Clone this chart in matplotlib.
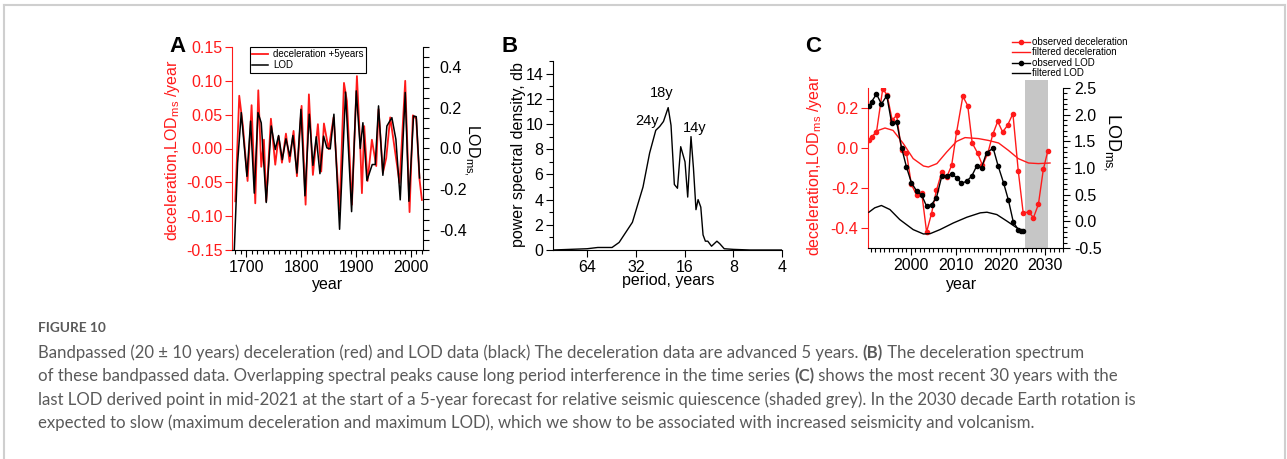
import matplotlib
matplotlib.use("Agg")
import matplotlib.pyplot as plt
from matplotlib.ticker import MultipleLocator, FormatStrFormatter, NullLocator, FixedLocator
from matplotlib.lines import Line2D
from matplotlib.text import Annotation

W, H = 1287, 459
RED = "#ff1a1a"

plt.rcParams["font.family"] = ["Liberation Sans", "DejaVu Sans"]
plt.rcParams["mathtext.fontset"] = "custom"
plt.rcParams["mathtext.rm"] = "Liberation Sans"
plt.rcParams["mathtext.it"] = "Liberation Sans"

# ---- panel A: bandpassed deceleration (+5 yr) and LOD ----
a_dec_year = [1680.0, 1687.2, 1693.9, 1702.4, 1709.7, 1716.4, 1721.9, 1727.3, 1732.2, 1736.4,
              1744.9, 1752.8, 1758.9, 1765.0, 1772.3, 1778.9, 1786.2, 1792.3, 1800.8, 1808.1,
              1814.1, 1821.4, 1830.5, 1836.6, 1841.5, 1850.0, 1859.1, 1870.0, 1878.0, 1883.4,
              1892.5, 1901.6, 1907.7, 1910.7, 1914.9, 1921.0, 1928.9, 1936.8, 1941.0, 1948.9,
              1955.0, 1962.3, 1971.4, 1979.3, 1989.6, 1997.5, 2003.6, 2009.7, 2015.7, 2020.0]
a_dec = [-0.078, 0.078, 0.033, -0.048, 0.064, -0.081, 0.086, -0.027, 0.013, -0.078,
         0.044, -0.024, 0.018, -0.021, 0.022, -0.020, 0.026, -0.041, 0.063, -0.083,
         0.080, -0.039, 0.036, -0.034, 0.037, -0.001, 0.046, -0.091, 0.097, 0.070,
         -0.083, 0.107, 0.003, -0.066, 0.033, -0.048, 0.013, -0.026, 0.058, -0.036,
         -0.014, 0.046, -0.006, -0.051, 0.100, -0.094, 0.049, 0.044, -0.046, -0.076]

a_lod_year = [1677.5, 1684.2, 1690.9, 1701.2, 1707.9, 1714.6, 1721.3, 1727.3, 1736.4, 1745.5,
              1752.8, 1758.9, 1765.6, 1772.3, 1779.5, 1785.0, 1792.3, 1799.6, 1806.9, 1814.8,
              1821.4, 1827.5, 1834.2, 1840.9, 1846.9, 1853.0, 1859.7, 1870.0, 1880.9, 1891.9,
              1900.4, 1907.7, 1912.5, 1919.8, 1929.5, 1935.0, 1941.0, 1948.9, 1956.2, 1965.3,
              1972.6, 1980.5, 1989.6, 1996.3, 2004.8, 2009.7, 2015.7]
a_lod = [-0.55, -0.071, 0.177, -0.137, 0.135, -0.220, 0.177, 0.126, -0.266, 0.111,
         -0.005, 0.064, -0.055, 0.048, -0.038, 0.064, -0.121, 0.193, -0.233, 0.169,
         -0.083, 0.058, -0.124, 0.061, 0.003, -0.002, 0.169, -0.398, 0.278, -0.311,
         0.284, 0.0, 0.127, -0.158, -0.079, -0.079, 0.210, -0.132, 0.111, 0.152,
         0.045, -0.253, 0.276, -0.260, 0.160, 0.157, -0.145]

# ---- panel B: spectrum ----
b_period = [104, 64, 55, 44.9, 40.6, 33.6, 28.9, 26.3, 24.1, 22.8, 21.6, 20.2, 19.4, 18.5,
            17.7, 16.9, 15.9, 15.3, 14.6, 14.1, 13.6, 13.2, 12.7, 12.3, 11.9, 11.5, 10.9,
            10.1, 9.7, 9.1, 8.0, 6.3, 4.0]
b_psd = [0.0, 0.1, 0.2, 0.2, 0.6, 2.2, 5.0, 7.7, 9.5, 9.8, 10.2, 11.3, 9.9, 5.2,
         4.9, 8.2, 7.0, 4.2, 9.0, 6.5, 3.2, 4.0, 3.4, 1.2, 0.7, 0.7, 0.3,
         0.7, 0.5, 0.1, 0.05, 0.0, 0.0]
b_peak_text = ["24y", "18y", "14y"]
b_peak_period = [27.2, 22.0, 13.8]
b_peak_psd = [10.2, 12.5, 9.65]

# ---- panel C: last 30 years ----
c_obs_dec_year = [1990.6, 1991.2, 1992.3, 1993.7, 1994.7, 1995.8, 1996.8, 1997.9, 1999.0, 2000.1,
                  2001.3, 2002.4, 2003.5, 2004.6, 2005.7, 2006.9, 2008.0, 2009.1, 2010.2, 2011.6,
                  2012.7, 2013.7, 2014.9, 2016.0, 2017.2, 2018.3, 2019.4, 2020.5, 2021.6, 2022.8,
                  2024.0, 2025.1, 2026.3, 2027.4, 2028.5, 2029.6, 2030.6]
c_obs_dec = [0.038, 0.055, 0.080, 0.297, 0.263, 0.140, 0.163, -0.012, -0.025, -0.182,
             -0.237, -0.223, -0.420, -0.328, -0.212, -0.120, -0.145, -0.087, 0.078, 0.258,
             0.212, 0.025, -0.025, -0.087, -0.025, 0.068, 0.133, 0.080, 0.113, 0.172,
             -0.115, -0.325, -0.320, -0.348, -0.282, -0.107, -0.015]

c_obs_lod_year = [1990.6, 1991.2, 1992.3, 1993.4, 1994.6, 1995.7, 1996.8, 1997.9, 1999.0, 2000.1,
                  2001.3, 2002.4, 2003.5, 2004.6, 2005.7, 2006.9, 2008.0, 2009.1, 2010.2, 2011.3,
                  2012.5, 2013.6, 2014.7, 2015.8, 2016.9, 2018.4, 2019.5, 2020.7, 2021.8, 2022.9,
                  2024.0, 2024.6, 2025.0]
c_obs_lod = [2.155, 2.243, 2.387, 2.199, 2.356, 1.835, 1.866, 1.383, 1.019, 0.724,
             0.567, 0.491, 0.284, 0.315, 0.441, 0.849, 0.849, 0.893, 0.818, 0.711,
             0.755, 0.849, 1.037, 1.006, 1.288, 1.370, 1.037, 0.724, 0.397, -0.017,
             -0.155, -0.174, -0.174]

c_filt_dec_year = [1990.6, 1992.3, 1994.2, 1996.0, 1998.3, 2000.5, 2002.8, 2003.9, 2005.8, 2008.0,
                   2010.2, 2012.1, 2015.1, 2017.3, 2019.6, 2021.8, 2024.0, 2026.3, 2028.5, 2031.1]
c_filt_dec = [0.030, 0.085, 0.100, 0.088, 0.022, -0.053, -0.090, -0.095, -0.078, -0.020,
              0.033, 0.052, 0.047, 0.038, 0.025, -0.012, -0.053, -0.075, -0.078, -0.075]

c_filt_lod_year = [1990.6, 1991.9, 1993.4, 1995.3, 1997.5, 2000.5, 2002.8, 2004.3, 2006.5, 2009.5,
                   2012.5, 2015.5, 2017.0, 2019.2, 2021.5, 2023.7, 2025.0]
c_filt_lod = [0.171, 0.253, 0.297, 0.221, 0.033, -0.155, -0.237, -0.231, -0.155, -0.030,
              0.077, 0.159, 0.171, 0.127, 0.002, -0.124, -0.174]

c_quiet_start, c_quiet_end = 2025.4, 2030.7


def box(l, t, r, b):
    return [l / W, 1 - b / H, (r - l) / W, (b - t) / H]


def px(x, y):
    return x / W, 1 - y / H


TICK = 11.5
LAB = 11.5

fig = plt.figure(figsize=(W / 100, H / 100), dpi=100)

# ================= A =================
axA = fig.add_axes(box(232, 47, 423, 250))
axA.plot(a_dec_year, a_dec, color=RED, lw=1.3)
axA.set_xlim(1674, 2022)
axA.set_ylim(-0.15, 0.15)
axA.yaxis.set_major_locator(MultipleLocator(0.05))
axA.yaxis.set_major_formatter(FormatStrFormatter("%.2f"))
axA.xaxis.set_major_locator(MultipleLocator(100))
axA.xaxis.set_minor_locator(MultipleLocator(10))
axA.tick_params(axis="y", colors=RED, labelsize=TICK, length=5, width=0.8, pad=2)
axA.tick_params(axis="x", which="major", labelsize=TICK, length=5, width=0.8, pad=2)
axA.tick_params(axis="x", which="minor", length=3, width=0.8)
axA.spines["left"].set_color(RED)
axA.spines["top"].set_visible(False)
axA.spines["right"].set_visible(False)

axA2 = axA.twinx()
axA2.plot(a_lod_year, a_lod, color="black", lw=1.1)
axA2.set_ylim(-0.5, 0.5)
axA2.yaxis.set_major_locator(MultipleLocator(0.2))
axA2.yaxis.set_minor_locator(MultipleLocator(0.05))
axA2.yaxis.set_major_formatter(FormatStrFormatter("%.1f"))
axA2.tick_params(axis="y", which="both", labelsize=TICK, length=4, width=0.8, pad=8)
for s in ["top", "left", "bottom"]:
    axA2.spines[s].set_visible(False)

legA = fig.legend(handles=[Line2D([], [], color=RED, lw=1.3, label="deceleration +5years"),
                           Line2D([], [], color="black", lw=1.1, label="LOD")],
                  loc="upper left", bbox_to_anchor=px(250, 47), fontsize=7,
                  frameon=True, fancybox=False, edgecolor="black", framealpha=1,
                  handlelength=1.6, handletextpad=0.5, borderpad=0.25, labelspacing=0.1,
                  borderaxespad=0)
legA.get_frame().set_linewidth(0.8)

fig.text(*px(178, 47), "A", fontsize=16, fontweight="bold", ha="center", va="center")
fig.text(*px(172, 150), "deceleration,LOD$_{\\mathrm{ms}}$ /year", color=RED, fontsize=LAB,
         rotation=90, ha="center", va="center")
fig.text(*px(471, 150), "LOD$_{\\mathrm{ms,}}$", fontsize=LAB, rotation=270,
         ha="center", va="center")
fig.text(*px(328, 284), "year", fontsize=LAB, ha="center", va="center")

# ================= B =================
axB = fig.add_axes(box(553, 61, 782, 250))
axB.plot(b_period, b_psd, color="black", lw=1.0)
axB.set_xscale("log", base=2)
axB.set_xlim(104, 4)
axB.set_ylim(0, 15)
axB.xaxis.set_major_locator(FixedLocator([64, 32, 16, 8, 4]))
axB.xaxis.set_major_formatter(FormatStrFormatter("%d"))
axB.xaxis.set_minor_locator(NullLocator())
axB.yaxis.set_major_locator(MultipleLocator(2))
axB.yaxis.set_minor_locator(MultipleLocator(1))
axB.tick_params(axis="both", which="major", labelsize=TICK, length=5, width=0.8, pad=2)
axB.tick_params(axis="y", which="minor", length=3, width=0.8)
axB.spines["top"].set_visible(False)
axB.spines["right"].set_visible(False)
for t, p, v in zip(b_peak_text, b_peak_period, b_peak_psd):
    axB.text(p, v, t, fontsize=10.5, ha="center", va="center")
fig.text(*px(510, 47), "B", fontsize=16, fontweight="bold", ha="center", va="center")
fig.text(*px(518, 155), "power spectral density, db", fontsize=LAB, rotation=90,
         ha="center", va="center")
fig.text(*px(668, 280), "period, years", fontsize=LAB, ha="center", va="center")

# ================= C =================
axC = fig.add_axes(box(868, 88, 1063, 248))
axC.axvspan(c_quiet_start, c_quiet_end, ymin=0, ymax=1.05, color="#c6c6c6", lw=0,
            clip_on=False, zorder=0)
axC.plot(c_filt_dec_year, c_filt_dec, color=RED, lw=1.0)
axC.plot(c_obs_dec_year, c_obs_dec, color=RED, lw=1.0, marker="o", ms=3)
axC.set_xlim(1990.4, 2034)
axC.set_ylim(-0.5, 0.3)
axC.yaxis.set_major_locator(FixedLocator([-0.4, -0.2, 0.0, 0.2]))
axC.yaxis.set_major_formatter(FormatStrFormatter("%.1f"))
axC.xaxis.set_major_locator(MultipleLocator(10))
axC.xaxis.set_minor_locator(MultipleLocator(1))
axC.tick_params(axis="y", colors=RED, labelsize=TICK, length=5, width=0.8, pad=2)
axC.tick_params(axis="x", which="major", labelsize=TICK, length=5, width=0.8, pad=2)
axC.tick_params(axis="x", which="minor", length=3, width=0.8)
axC.spines["left"].set_color(RED)
axC.spines["top"].set_visible(False)
axC.spines["right"].set_visible(False)

axC2 = axC.twinx()
axC2.plot(c_filt_lod_year, c_filt_lod, color="black", lw=1.0)
axC2.plot(c_obs_lod_year, c_obs_lod, color="black", lw=1.0, marker="o", ms=3)
axC2.set_ylim(-0.5, 2.5)
axC2.yaxis.set_major_locator(MultipleLocator(0.5))
axC2.yaxis.set_minor_locator(MultipleLocator(0.1))
axC2.yaxis.set_major_formatter(FormatStrFormatter("%.1f"))
axC2.tick_params(axis="y", which="major", labelsize=TICK, length=5, width=0.8, pad=3)
axC2.tick_params(axis="y", which="minor", length=3, width=0.8)
for s in ["top", "left", "bottom"]:
    axC2.spines[s].set_visible(False)

fig.legend(handles=[Line2D([], [], color=RED, lw=1.0, marker="o", ms=3, label="observed deceleration"),
                    Line2D([], [], color=RED, lw=1.0, label="filtered deceleration"),
                    Line2D([], [], color="black", lw=1.0, marker="o", ms=3, label="observed LOD"),
                    Line2D([], [], color="black", lw=1.0, label="filtered LOD")],
           loc="upper left", bbox_to_anchor=px(1012, 37), fontsize=7, frameon=False,
           handlelength=1.8, handletextpad=0.3, borderpad=0, labelspacing=0.05,
           borderaxespad=0)

fig.text(*px(813, 47), "C", fontsize=16, fontweight="bold", ha="center", va="center")
fig.text(*px(814, 165), "deceleration,LOD$_{\\mathrm{ms}}$ /year", color=RED, fontsize=LAB,
         rotation=90, ha="center", va="center")
fig.text(*px(1112, 142), "LOD$_{\\mathrm{ms,}}$", fontsize=13, rotation=270,
         ha="center", va="center")
fig.text(*px(962, 284), "year", fontsize=LAB, ha="center", va="center")

# ================= caption =================
CAP = "#5a5a5a"
cap_font = ["Lato", "DejaVu Sans"]
CAPSIZE = 12.1
fig.text(*px(38, 328), "FIGURE 10", fontsize=9.8, fontweight="bold", color=CAP,
         family=cap_font, va="center")

lines = [
    [("Bandpassed (20 \u00b1 10 years) deceleration (red) and LOD data (black) The deceleration data are advanced 5 years. ", "normal"),
     ("(B)", "bold"), (" The deceleration spectrum", "normal")],
    [("of these bandpassed data. Overlapping spectral peaks cause long period interference in the time series ", "normal"),
     ("(C)", "bold"), (" shows the most recent 30 years with the", "normal")],
    [("last LOD derived point in mid-2021 at the start of a 5-year forecast for relative seismic quiescence (shaded grey). In the 2030 decade Earth rotation is", "normal")],
    [("expected to slow (maximum deceleration and maximum LOD), which we show to be associated with increased seismicity and volcanism.", "normal")],
]
for i, parts in enumerate(lines):
    y = 353 + i * 23.3
    last = None
    for txt, wt in parts:
        if last is None:
            last = fig.text(*px(38, y), txt, fontsize=CAPSIZE, color=CAP, family=cap_font,
                            fontweight=wt, va="center")
        else:
            last = fig.add_artist(Annotation(txt, xy=(1, 0), xycoords=last, va="bottom",
                                             ha="left", fontsize=CAPSIZE, color=CAP,
                                             family=cap_font, fontweight=wt))

# frame
for xs, ys in [([4, 4], [459, 5]), ([4, 1285], [5, 5]), ([1285, 1285], [5, 459])]:
    fig.add_artist(Line2D([x / W for x in xs], [1 - y / H for y in ys], color="#cfcfcf",
                          lw=1.5, transform=fig.transFigure))

fig.savefig("out.png", dpi=100)
